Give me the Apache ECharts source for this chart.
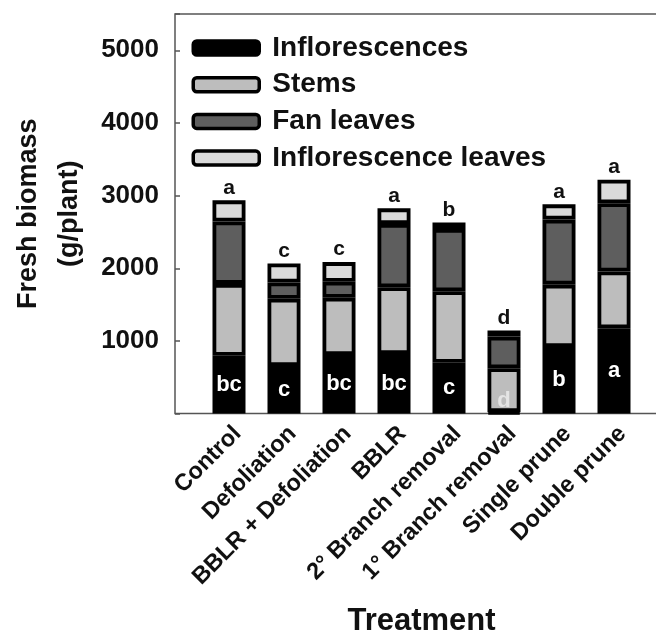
<!DOCTYPE html>
<html>
<head>
<meta charset="utf-8">
<script src="https://cdn.jsdelivr.net/npm/echarts@6/dist/echarts.min.js"></script>
<style>
html,body{margin:0;padding:0;background:#fff;}
#chart{width:656px;height:631px;}
</style>
</head>
<body>
<div id="chart"></div>
<script>
var categories = ['Control', 'Defoliation', 'BBLR + Defoliation', 'BBLR', '2° Branch removal', '1° Branch removal', 'Single prune', 'Double prune'];
var inflorescences = [795, 655, 805, 820, 700, 20, 915, 1175];
var stems = [990, 925, 790, 920, 985, 605, 860, 780];
var fanLeaves = [860, 225, 220, 870, 855, 435, 895, 940];
var inflorescenceLeaves = [290, 260, 270, 215, 90, 85, 210, 325];
var topLetters = ['a', 'c', 'c', 'a', 'b', 'd', 'a', 'a'];
var inflorescenceLetters = ['bc', 'c', 'bc', 'bc', 'c', 'd', 'b', 'a'];
var yTicks = [0, 1000, 2000, 3000, 4000, 5000];

var FONT = 'Liberation Sans, Arial, sans-serif';
var colors = { infl: '#000000', stems: '#bdbdbd', fan: '#5e5e5e', leaves: '#dadada' };

var chart = echarts.init(document.getElementById('chart'));

var inflData = inflorescences.map(function (v, i) {
  var item = { value: v, label: { formatter: inflorescenceLetters[i] } };
  if (v < 200) {
    item.label.position = 'insideBottom';
    item.label.distance = 3;
    item.label.color = '#e4e4e4';
  }
  return item;
});

var leavesData = inflorescenceLeaves.map(function (v, i) {
  return { value: v, label: { formatter: topLetters[i] } };
});

var barBase = {
  type: 'bar',
  stack: 'total',
  xAxisIndex: 1,
  yAxisIndex: 1,
  barWidth: 33,
  animation: false
};

var BW = 3.8;

var option = {
  animation: false,
  textStyle: { fontFamily: FONT },
  grid: [
    { left: 175, right: -10, top: 14, bottom: 217.4, show: true, borderColor: '#555', borderWidth: 1.5, backgroundColor: 'transparent', containLabel: false, outerBoundsMode: 'none' },
    { left: 201.5, width: 440, top: 14, bottom: 217.4, containLabel: false, outerBoundsMode: 'none' }
  ],
  legend: {
    orient: 'vertical',
    left: 191.5,
    top: 33,
    padding: 0,
    itemWidth: 66,
    itemHeight: 14,
    itemGap: 6.7,
    icon: 'roundRect',
    itemStyle: { borderColor: '#000', borderWidth: 3.5 },
    textStyle: { fontFamily: FONT, fontSize: 28, fontWeight: 'bold', color: '#111', lineHeight: 30, padding: [0, 0, 0, 8] },
    data: ['Inflorescences', 'Stems', 'Fan leaves', 'Inflorescence leaves']
  },
  xAxis: [
    { type: 'value', gridIndex: 0, min: 0, max: 1, show: false },
    {
      type: 'category', gridIndex: 1, data: categories,
      axisLine: { show: false }, axisTick: { show: false },
      axisLabel: { rotate: 45, interval: 0, margin: 8, verticalAlign: 'top', fontFamily: FONT, fontSize: 23.5, fontWeight: 'bold', color: '#111' },
      name: 'Treatment', nameLocation: 'middle', nameGap: 192,
      nameTextStyle: { fontFamily: FONT, fontSize: 31, fontWeight: 'bold', color: '#111' }
    }
  ],
  yAxis: [
    {
      type: 'value', gridIndex: 0, min: yTicks[0], max: 5500, interval: 1000,
      axisLine: { show: false },
      axisTick: { show: true, inside: true, length: 5, lineStyle: { color: '#555', width: 1.5 } },
      splitLine: { show: false },
      axisLabel: {
        margin: 16, fontFamily: FONT, fontSize: 26, fontWeight: 'bold', color: '#111',
        formatter: function (v) { return (v === 0 || yTicks.indexOf(v) < 0) ? '' : String(v); }
      },
      name: 'Fresh biomass\n(g/plant)', nameLocation: 'middle', nameGap: 84, nameRotate: 90,
      nameTextStyle: { fontFamily: FONT, fontSize: 27, fontWeight: 'bold', color: '#111', lineHeight: 41 }
    },
    { type: 'value', gridIndex: 1, min: 0, max: 5500, show: false }
  ],
  series: [
    Object.assign({}, barBase, {
      name: 'Inflorescences', data: inflData,
      itemStyle: { color: colors.infl, borderColor: '#000', borderWidth: BW },
      label: { show: true, position: 'inside', color: '#fff', fontFamily: FONT, fontSize: 22, fontWeight: 'bold' }
    }),
    Object.assign({}, barBase, {
      name: 'Stems', data: stems,
      itemStyle: { color: colors.stems, borderColor: '#000', borderWidth: BW }
    }),
    Object.assign({}, barBase, {
      name: 'Fan leaves', data: fanLeaves,
      itemStyle: { color: colors.fan, borderColor: '#000', borderWidth: BW }
    }),
    Object.assign({}, barBase, {
      name: 'Inflorescence leaves', data: leavesData,
      itemStyle: { color: colors.leaves, borderColor: '#000', borderWidth: BW },
      label: { show: true, position: 'top', distance: 2, color: '#111', fontFamily: FONT, fontSize: 21, fontWeight: 'bold' }
    })
  ]
};
chart.setOption(option);
</script>
</body>
</html>
